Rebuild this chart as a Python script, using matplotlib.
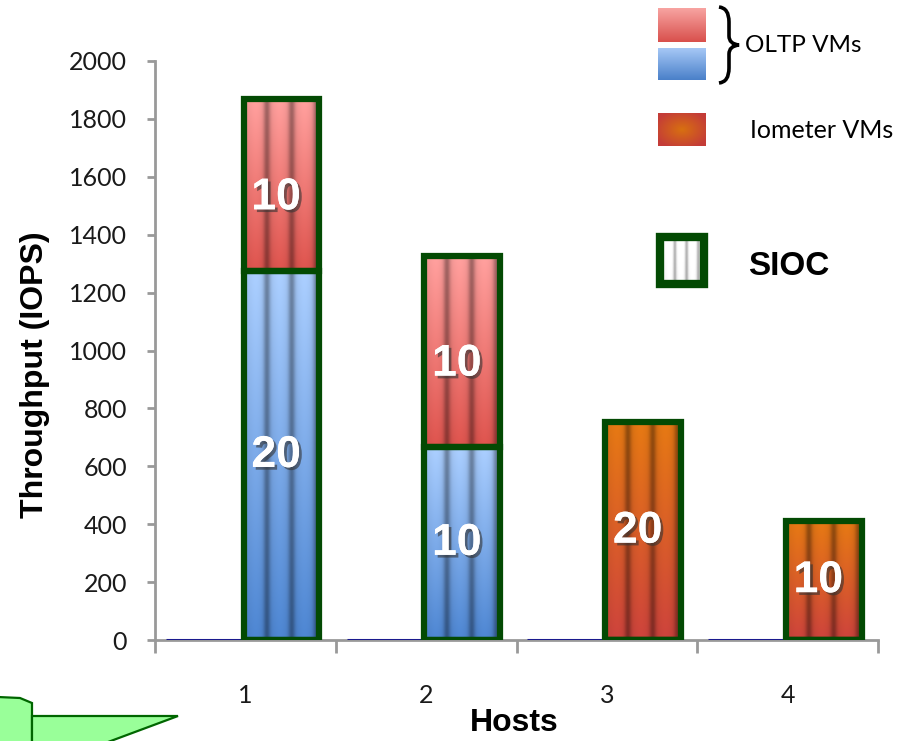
import numpy as np
import matplotlib
matplotlib.use("Agg")
import matplotlib.pyplot as plt
from matplotlib.patches import Rectangle, Polygon, PathPatch
from matplotlib.path import Path
import matplotlib.patheffects as pe

# ---------------- data ----------------
hosts = ["1", "2", "3", "4"]
oltp_blue = [1275, 668, 0, 0]        # OLTP VMs (lower segment)
oltp_red = [595, 660, 0, 0]          # OLTP VMs (upper segment)
iometer = [0, 0, 752, 410]           # Iometer VMs
no_sioc = [0, 0, 0, 0]               # without SIOC
blue_labels = ["20", "10", "", ""]
red_labels = ["10", "10", "", ""]
iometer_labels = ["", "", "20", "10"]
yticks = [0, 200, 400, 600, 800, 1000, 1200, 1400, 1600, 1800, 2000]

W, H = 908, 741
fig = plt.figure(figsize=(W / 100, H / 100), dpi=100)
fig.patch.set_facecolor("white")

def px_rect(x0, y0, x1, y1):
    return [x0 / W, 1 - y1 / H, (x1 - x0) / W, (y1 - y0) / H]

ax = fig.add_axes(px_rect(155, 61, 878, 640))

EDGE = "#034a03"
x = np.arange(1, len(hosts) + 1)

def hexrgb(h):
    h = h.lstrip("#")
    return np.array([int(h[i:i + 2], 16) for i in (0, 2, 4)]) / 255.0

def seg_image(top, bot, nh=120, nw=80, stripes=True, depth=0.34):
    t = np.linspace(0, 1, nh)[:, None, None]
    col = hexrgb(top)[None, None, :] * (1 - t) + hexrgb(bot)[None, None, :] * t
    xs = np.linspace(0, 1, nw)
    m = np.ones_like(xs)
    if stripes:
        for p in (0.30, 0.63, 0.96):
            m -= depth * np.exp(-((xs - p) / 0.045) ** 2)
        for p in (0.15, 0.47, 0.80):
            m += 0.05 * np.exp(-((xs - p) / 0.08) ** 2)
    img = col * m[None, :, None]
    img = np.broadcast_to(img, (nh, nw, 3))
    return np.clip(img, 0, 1)

def fill_bars(bars, top, bot):
    for b in bars:
        h = b.get_height()
        if h <= 0:
            continue
        x0, y0, w = b.get_x(), b.get_y(), b.get_width()
        im = ax.imshow(seg_image(top, bot), extent=(x0, x0 + w, y0, y0 + h),
                       aspect="auto", zorder=2, interpolation="bilinear")
        im.set_clip_path(b)

bw = 0.42
left_w = 0.44
# bars without SIOC (zero height)
ax.bar(x - left_w, no_sioc, width=left_w, align="edge", facecolor="none",
       edgecolor="#1a1a8e", linewidth=2.2, zorder=3)

b_blue = ax.bar(x - 0.01, oltp_blue, width=bw, align="edge", facecolor="none",
                edgecolor=EDGE, linewidth=4.5, zorder=4)
b_red = ax.bar(x - 0.01, oltp_red, width=bw, bottom=oltp_blue, align="edge",
               facecolor="none", edgecolor=EDGE, linewidth=4.5, zorder=4)
b_io = ax.bar(x - 0.01, iometer, width=bw, align="edge", facecolor="none",
              edgecolor=EDGE, linewidth=4.5, zorder=4)
fill_bars(b_blue, "#a4c6f4", "#4a80c9")
fill_bars(b_red, "#f59a98", "#d4504a")
fill_bars(b_io, "#dc7412", "#c4403a")

shadow = [pe.withSimplePatchShadow(offset=(2, -2), shadow_rgbFace="#333333", alpha=0.6),
          pe.Normal()]
for bars, labs, dy in ((b_blue, blue_labels, 0), (b_red, red_labels, -45),
                       (b_io, iometer_labels, 0)):
    for b, lab in zip(bars, labs):
        if not lab or b.get_height() <= 0:
            continue
        cx = b.get_x() + b.get_width() / 2 - 0.03
        cy = b.get_y() + b.get_height() / 2 + dy
        ax.text(cx, cy, lab, color="white", fontsize=32, fontweight="bold",
                family="Liberation Sans", ha="center", va="center", zorder=6,
                path_effects=shadow)

ax.set_xlim(0.5, len(hosts) + 0.5)
ax.set_ylim(0, 2000)
ax.set_yticks(yticks)
ax.set_yticklabels([str(v) for v in yticks], family="Lato", fontsize=18, color="#1a1a1a")
ax.set_xticks(x)
ax.set_xticklabels(hosts, family="Lato", fontsize=18, color="#1a1a1a")
ax.set_xticks(np.arange(0.5, len(hosts) + 1, 1.0), minor=True)
ax.tick_params(axis="x", which="major", length=0, pad=32)
ax.tick_params(axis="x", which="minor", length=9, width=2, color="#999999")
ax.tick_params(axis="y", which="major", length=6, width=2, color="#999999", pad=14)
for s in ("top", "right"):
    ax.spines[s].set_visible(False)
for s in ("left", "bottom"):
    ax.spines[s].set_color("#999999")
    ax.spines[s].set_linewidth(2)

ax.set_ylabel("Throughput (IOPS)", family="Liberation Sans", fontweight="bold",
              fontsize=23)
ax.yaxis.set_label_coords((35 - 155) / 723, (640 - 375) / 579)
ax.yaxis.label.set_va("center")
ax.set_xlabel("Hosts", family="Liberation Sans", fontweight="bold", fontsize=23)
ax.xaxis.set_label_coords((514 - 155) / 723, -(723 - 640) / 579)
ax.xaxis.label.set_va("center")

# ---------------- legend ----------------
def swatch(x0, y0, x1, y1, img):
    a = fig.add_axes(px_rect(x0, y0, x1, y1))
    a.imshow(img, aspect="auto", interpolation="bilinear")
    a.set_axis_off()
    return a

swatch(658, 8, 706, 42, seg_image("#f8a4a2", "#d8504c", stripes=False))
swatch(658, 48, 706, 80, seg_image("#a6c8f6", "#4a80c9", stripes=False))
# radial orange-red swatch
yy, xx = np.mgrid[-1:1:60j, -1:1:90j]
r = np.clip(np.sqrt(xx ** 2 + yy ** 2) / 1.2, 0, 1)[..., None]
rad = hexrgb("#d87010") * (1 - r) + hexrgb("#c43c38") * r
swatch(658, 113, 706, 146, rad)
# SIOC swatch
swatch(664, 241, 700, 280, seg_image("#ffffff", "#f4f4f4", stripes=True, depth=0.3))
fig.patches.append(Rectangle((660 / W, 1 - 284 / H), 44 / W, 47 / H,
                             transform=fig.transFigure, facecolor="none",
                             edgecolor=EDGE, linewidth=6))

# brace
def P(px, py):
    return (px / W, 1 - py / H)
verts = [P(719, 7), P(729, 8), P(729, 22), P(729, 36), P(729, 36), P(729, 44), P(739, 45),
         P(729, 46), P(729, 54), P(729, 54), P(729, 68), P(729, 82), P(719, 83)]
codes = [Path.MOVETO, Path.CURVE3, Path.CURVE3, Path.LINETO, Path.LINETO, Path.CURVE3, Path.CURVE3,
         Path.CURVE3, Path.CURVE3, Path.LINETO, Path.LINETO, Path.CURVE3, Path.CURVE3]
fig.patches.append(PathPatch(Path(verts, codes), transform=fig.transFigure,
                             facecolor="none", edgecolor="black", linewidth=2.6))

fig.text(745 / W, 1 - 46 / H, "OLTP VMs", family="Lato", fontsize=17.5, va="center", ha="left")
fig.text(750 / W, 1 - 131 / H, "Iometer VMs", family="Lato", fontsize=18, va="center", ha="left")
fig.text(748 / W, 1 - 266 / H, "SIOC", family="Liberation Sans", fontweight="bold",
         fontsize=24, va="center", ha="left")

# callout shape bottom-left
GREEN_F, GREEN_E = "#99ff99", "#006600"
box = [P(-2, 697), P(20, 698), P(32, 703), P(32, 745), P(-2, 745)]
tail = [P(32, 716), P(178, 716), P(100, 745), P(32, 745)]
for pts in (box, tail):
    fig.patches.append(Polygon(pts, closed=True, transform=fig.transFigure,
                               facecolor=GREEN_F, edgecolor=GREEN_E, linewidth=1.6))

fig.savefig("out.png", dpi=100)
